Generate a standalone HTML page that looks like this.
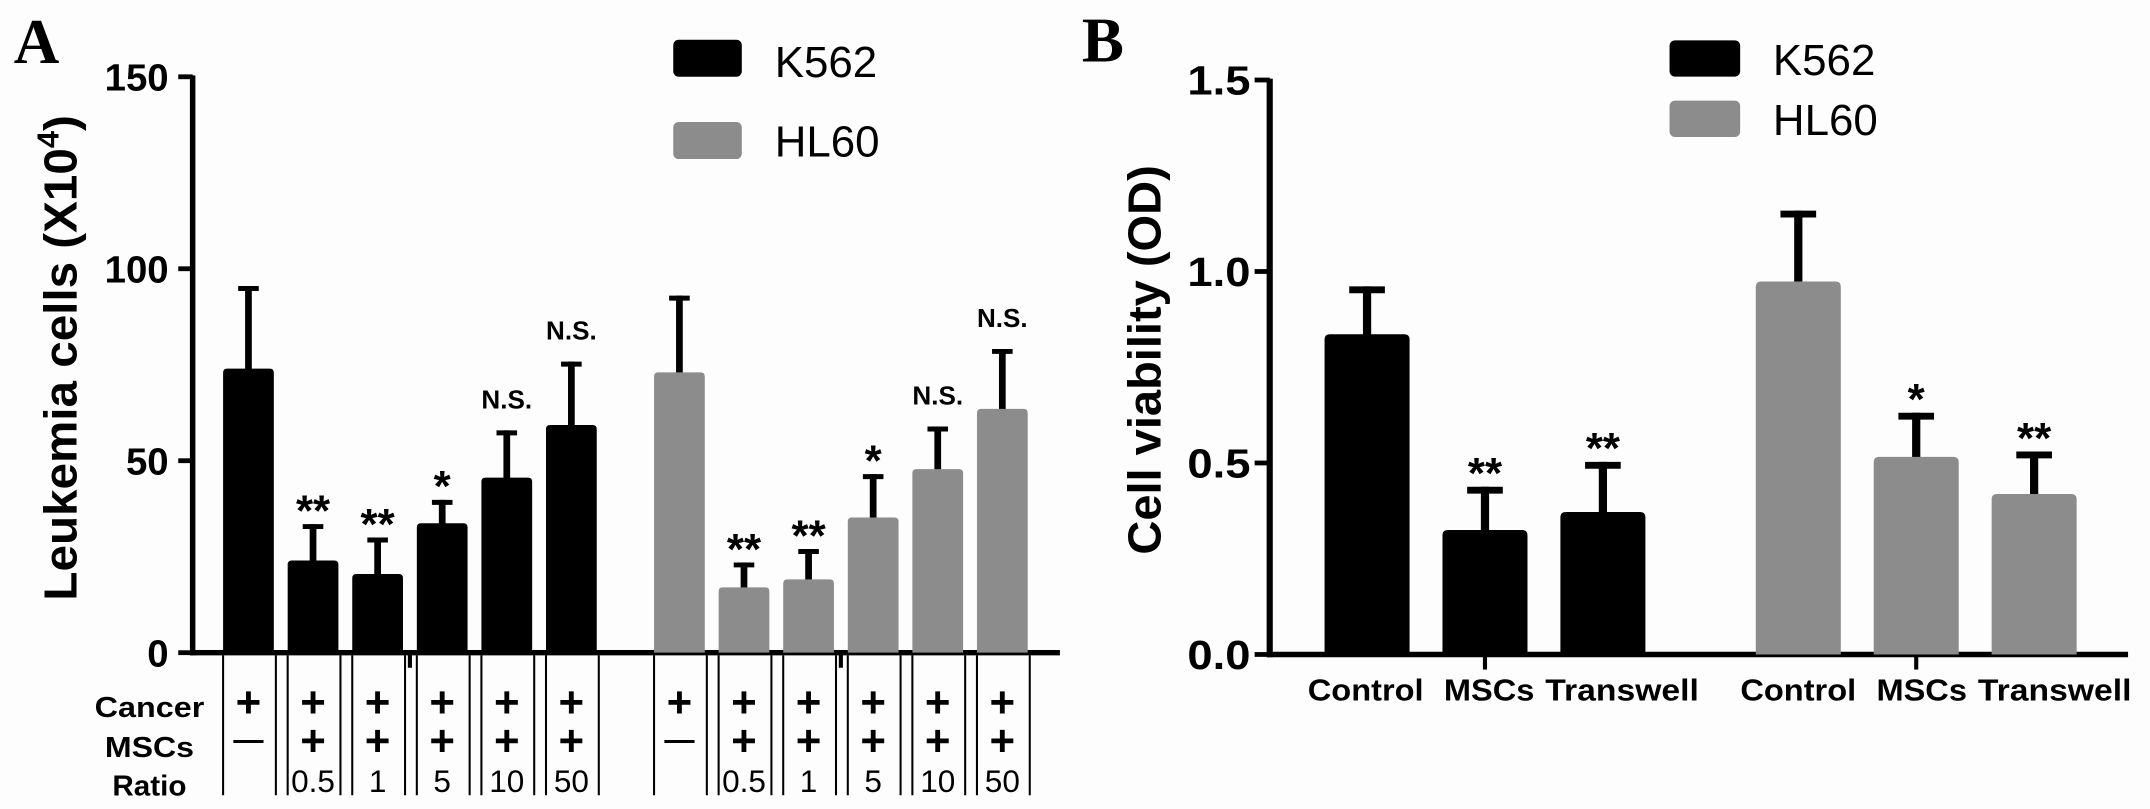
<!DOCTYPE html>
<html><head><meta charset="utf-8">
<style>
html,body{margin:0;padding:0;background:#fdfdfd;}
svg{display:block;}
text{font-family:"Liberation Sans",Arial,sans-serif;}
</style></head>
<body>
<svg id="fig" width="2150" height="809" viewBox="0 0 1568 590" preserveAspectRatio="none" xmlns="http://www.w3.org/2000/svg">
<rect x="0" y="0" width="1568" height="590" fill="#fdfdfd"/>
<g id="panelA"></g>
<g id="panelB"></g>
</svg>
<script>
// ---- Panel A data ----
const aRatios = ['', '0.5', '1', '5', '10', '50'];
const aCancer = ['+', '+', '+', '+', '+', '+'];
const aMSCs = ['—', '+', '+', '+', '+', '+'];
const aK562 = [74, 24, 20.5, 33.7, 45.6, 59.3];
const aK562Sd = [21.5, 9.5, 9.5, 6.1, 12.3, 16.5];
const aHL60 = [73, 17, 19.1, 35.2, 47.8, 63.5];
const aHL60Sd = [20, 6.5, 7.9, 11.3, 11.1, 15.6];
const aK562Sig = ['', '**', '**', '*', 'N.S.', 'N.S.'];
const aHL60Sig = ['', '**', '**', '*', 'N.S.', 'N.S.'];
const aTicks = [0, 50, 100, 150];
const aTickLabels = ['0', '50', '100', '150'];
// ---- Panel B data ----
const bCategories = ['Control', 'MSCs', 'Transwell'];
const bK562 = [0.836, 0.325, 0.372];
const bK562Sd = [0.125, 0.113, 0.131];
const bHL60 = [0.974, 0.516, 0.419];
const bHL60Sd = [0.185, 0.115, 0.111];
const bK562Sig = ['', '**', '**'];
const bHL60Sig = ['', '*', '**'];
const bTicks = [0, 0.5, 1.0, 1.5];
const bTickLabels = ['0.0', '0.5', '1.0', '1.5'];
const seriesNames = ['K562', 'HL60'];

const NS = 'http://www.w3.org/2000/svg';
const BLACK = '#000', GRAY = '#8c8c8c';
function mk(parent, tag, attrs, txt) {
  const e = document.createElementNS(NS, tag);
  for (const k in attrs) e.setAttribute(k, attrs[k]);
  if (txt !== undefined) e.textContent = txt;
  parent.appendChild(e);
  return e;
}
function barPath(x, y, w, h, r) {
  r = Math.min(r, h / 2, w / 2);
  return `M${x},${y + h}V${y + r}Q${x},${y} ${x + r},${y}H${x + w - r}Q${x + w},${y} ${x + w},${y + r}V${y + h}Z`;
}

// ================= Panel A =================
(function () {
  const g = document.getElementById('panelA');
  const yA = v => 476 - v * 2.8;
  const axX = 140.5;
  const bw = 37, step = 47.1;
  const xK = i => 181.2 + i * step;
  const xH = i => 495.5 + i * step;

  let t = mk(g, 'text', {x: 10, y: 46, 'font-size': 46, 'font-weight': 'bold', style: 'font-family:"Liberation Serif",serif'}, 'A');
  
  

  let ax = mk(g, 'line', {x1: axX, y1: yA(150) - 1, x2: axX, y2: yA(0) + 2, stroke: '#000', 'stroke-width': 4});
  
  
  aTicks.forEach((v, i) => {
    const tk = mk(g, 'line', {x1: 130, y1: yA(v), x2: axX, y2: yA(v), stroke: '#000', 'stroke-width': 3.5});
    
    
    const tl = mk(g, 'text', {x: 123, y: yA(v) + 10, 'font-size': 28, 'font-weight': 'bold', 'text-anchor': 'end'}, aTickLabels[i]);
    
    
  });
  let xa = mk(g, 'line', {x1: axX - 2, y1: yA(0), x2: 773, y2: yA(0), stroke: '#000', 'stroke-width': 4});
  
  
  [(xK(0) + xK(5)) / 2, (xH(0) + xH(5)) / 2].forEach(cx => {
    const s = mk(g, 'line', {x1: cx, y1: yA(0), x2: cx, y2: yA(0) + 11, stroke: '#000', 'stroke-width': 3});
    
    
  });

  let yt = mk(g, 'text', {x: 0, y: 0, 'font-size': 34, 'font-weight': 'bold', 'text-anchor': 'middle', transform: 'translate(55.8,261) rotate(-90)', textLength: 354, lengthAdjust: 'spacingAndGlyphs'});
  
  
  yt.appendChild(document.createTextNode('Leukemia cells (X10'));
  mk(yt, 'tspan', {'font-size': 22, dy: -13}, '4');
  mk(yt, 'tspan', {dy: 13}, ')');

  function drawSeries(vals, sds, sigs, xf, color, nm) {
    vals.forEach((v, i) => {
      const cx = xf(i), top = yA(v), errTop = yA(v + sds[i]);
      const el = mk(g, 'line', {x1: cx, y1: top + 2, x2: cx, y2: errTop, stroke: '#000', 'stroke-width': 4.9});
      
      
      const cap = mk(g, 'line', {x1: cx - 7.5, y1: errTop + 1.8, x2: cx + 7.5, y2: errTop + 1.8, stroke: '#000', 'stroke-width': 3.6});
      
      
      const b = mk(g, 'path', {d: barPath(cx - bw / 2, top, bw, yA(0) - top, 3), fill: color});
      
      
      if (sigs[i]) {
        const isNS = sigs[i] === 'N.S.';
        const st = mk(g, 'text', {x: cx, y: isNS ? errTop - 16 : errTop + 1, 'font-size': isNS ? 19 : 32, 'font-weight': 'bold', 'text-anchor': 'middle'}, sigs[i]);
        
        
      }
    });
  }
  drawSeries(aK562, aK562Sd, aK562Sig, xK, BLACK, 'k562');
  drawSeries(aHL60, aHL60Sd, aHL60Sig, xH, GRAY, 'hl60');

  const rowLbl = [['Cancer', 522.8, 80], ['MSCs', 552, 65], ['Ratio', 580.3, 54]];
  rowLbl.forEach(r => {
    const tl = mk(g, 'text', {x: 109, y: r[1], 'font-size': 21, 'font-weight': 'bold', 'text-anchor': 'middle', textLength: r[2], lengthAdjust: 'spacingAndGlyphs'}, r[0]);
    
    
  });
  [xK, xH].forEach(xf => {
    for (let i = 0; i < aRatios.length; i++) {
      const cx = xf(i);
      [cx - bw / 2, cx + bw / 2 + 1.5].forEach(lx => {
        const ln = mk(g, 'line', {x1: lx, y1: 478, x2: lx, y2: 580, stroke: '#000', 'stroke-width': 1.5});
        
        
      });
      const c = mk(g, 'text', {x: cx, y: 523, 'font-size': 32, 'font-weight': 'bold', 'text-anchor': 'middle'}, aCancer[i]);
      
      
      const isDash = aMSCs[i] === '—';
      const m = mk(g, 'text', {x: cx, y: isDash ? 546.5 : 551, 'font-size': isDash ? 22 : 32, 'font-weight': 'bold', 'text-anchor': 'middle'}, aMSCs[i]);
      
      
      if (aRatios[i]) {
        const r = mk(g, 'text', {x: cx, y: 577.5, 'font-size': 23, 'text-anchor': 'middle'}, aRatios[i]);
        
        
      }
    }
  });

  [[BLACK, 29, 56], [GRAY, 89, 114]].forEach((L, i) => {
    const sq = mk(g, 'rect', {x: 491, y: L[1], width: 50, height: 27, rx: 4, fill: L[0]});
    
    
    const lt = mk(g, 'text', {x: 565, y: L[2], 'font-size': 32}, seriesNames[i]);
    
    
  });
})();

// ================= Panel B =================
(function () {
  const g = document.getElementById('panelB');
  const yB = v => 477.3 - v * 279.3;
  const axX = 926;
  const bw = 62, step = 86;
  const xK = i => 997 + i * step;
  const xH = i => 1311.5 + i * step;

  let t = mk(g, 'text', {x: 789, y: 45, 'font-size': 46, 'font-weight': 'bold', style: 'font-family:"Liberation Serif",serif'}, 'B');
  
  

  let ax = mk(g, 'line', {x1: axX, y1: yB(1.5) - 1, x2: axX, y2: yB(0) + 2, stroke: '#000', 'stroke-width': 4.5});
  
  
  bTicks.forEach((v, i) => {
    const tk = mk(g, 'line', {x1: 915, y1: yB(v), x2: axX, y2: yB(v), stroke: '#000', 'stroke-width': 3.5});
    
    
    const tl = mk(g, 'text', {x: 912, y: yB(v) + 10.5, 'font-size': 30, 'font-weight': 'bold', 'text-anchor': 'end', textLength: 46, lengthAdjust: 'spacingAndGlyphs'}, bTickLabels[i]);
    
    
  });
  let xa = mk(g, 'line', {x1: axX - 2, y1: yB(0), x2: 1552, y2: yB(0), stroke: '#000', 'stroke-width': 4});
  
  
  [xK(1), xH(1)].forEach(cx => {
    const s = mk(g, 'line', {x1: cx, y1: yB(0), x2: cx, y2: yB(0) + 11, stroke: '#000', 'stroke-width': 3});
    
    
  });

  let yt = mk(g, 'text', {x: 0, y: 0, 'font-size': 34, 'font-weight': 'bold', 'text-anchor': 'middle', transform: 'translate(846.4,262.5) rotate(-90)', textLength: 284, lengthAdjust: 'spacingAndGlyphs'}, 'Cell viability  (OD)');
  
  

  function drawSeries(vals, sds, sigs, xf, color, nm) {
    vals.forEach((v, i) => {
      const cx = xf(i), top = yB(v), errTop = yB(v + sds[i]);
      const el = mk(g, 'line', {x1: cx, y1: top + 2, x2: cx, y2: errTop, stroke: '#000', 'stroke-width': 6});
      
      
      const cap = mk(g, 'line', {x1: cx - 13, y1: errTop + 2.5, x2: cx + 13, y2: errTop + 2.5, stroke: '#000', 'stroke-width': 5});
      
      
      const b = mk(g, 'path', {d: barPath(cx - bw / 2, top, bw, yB(0) - top, 4), fill: color});
      
      
      if (sigs[i]) {
        const st = mk(g, 'text', {x: cx, y: errTop + 1, 'font-size': 32, 'font-weight': 'bold', 'text-anchor': 'middle'}, sigs[i]);
        
        
      }
    });
  }
  drawSeries(bK562, bK562Sd, bK562Sig, xK, BLACK, 'k562');
  drawSeries(bHL60, bHL60Sd, bHL60Sig, xH, GRAY, 'hl60');

  const lblOff = [-1, 3, 14];
  const lblLen = [84.5, 66, 112];
  [xK, xH].forEach((xf, gi) => {
    bCategories.forEach((c, i) => {
      const tl = mk(g, 'text', {x: xf(i) + lblOff[i] + (gi ? 1 : 0), y: 511, 'font-size': 22, 'font-weight': 'bold', 'text-anchor': 'middle', textLength: lblLen[i], lengthAdjust: 'spacingAndGlyphs'}, c);
      
      
    });
  });

  [[BLACK, 29.4, 54.6], [GRAY, 73.4, 98.6]].forEach((L, i) => {
    const sq = mk(g, 'rect', {x: 1217.6, y: L[1], width: 51.5, height: 26.5, rx: 4, fill: L[0]});
    
    
    const lt = mk(g, 'text', {x: 1293, y: L[2], 'font-size': 32}, seriesNames[i]);
    
    
  });
})();
</script>
</body></html>
